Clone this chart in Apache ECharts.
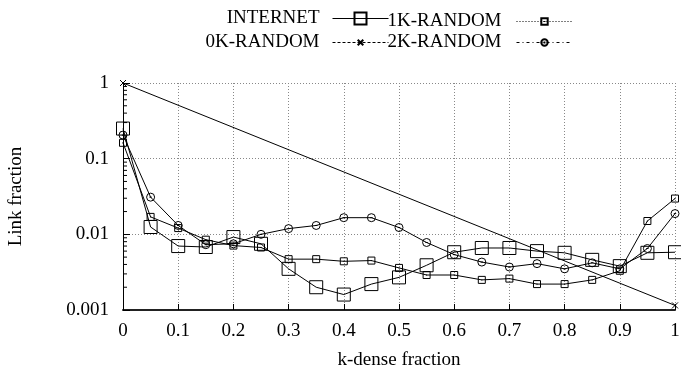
<!DOCTYPE html>
<html>
<head>
<meta charset="utf-8">
<script src="https://cdn.jsdelivr.net/npm/echarts@6/dist/echarts.min.js"></script>
<style>
  html, body { margin: 0; padding: 0; background: #fff; }
  #chart { width: 681px; height: 371px; }
</style>
</head>
<body>
<div id="chart"></div>
<script>
// k-dense fraction sample points
const kDense = [0, 0.05, 0.1, 0.15, 0.2, 0.25, 0.3, 0.35, 0.4, 0.45, 0.5,
                0.55, 0.6, 0.65, 0.7, 0.75, 0.8, 0.85, 0.9, 0.95, 1];

// link fraction per series
const internet = [0.25, 0.0125, 0.0070, 0.0068, 0.0092, 0.0075, 0.0035, 0.0020, 0.0016, 0.0022, 0.0027,
                  0.0039, 0.0058, 0.0066, 0.0066, 0.0060, 0.0057, 0.0046, 0.0038, 0.0057, 0.0058];
const random1k = [0.162, 0.017, 0.0121, 0.0085, 0.0071, 0.0067, 0.0047, 0.0047, 0.0044, 0.0045, 0.0036,
                  0.0029, 0.0029, 0.0025, 0.0026, 0.0022, 0.0022, 0.0025, 0.0033, 0.015, 0.0297];
const random2k = [0.205, 0.031, 0.0131, 0.0073, 0.0075, 0.0100, 0.0119, 0.0131, 0.0166, 0.0166, 0.0123,
                  0.0078, 0.0054, 0.0043, 0.0037, 0.0041, 0.0035, 0.0042, 0.0035, 0.0065, 0.0188];
const random0kX = [0, 1];
const random0k = [1, 0.00115];

// log minor tick positions on the y axis (2..9 in each decade)
const minorTickValues = [];
[0.001, 0.01, 0.1].forEach(function (d) {
  for (let m = 2; m <= 9; m++) minorTickValues.push(+(m * d).toPrecision(3));
});

const FONT = 'Liberation Serif';
const pairs = (xs, ys) => xs.map((x, i) => [x, ys[i]]);

const emptyFill = 'rgba(0,0,0,0)';
const markStyle = { color: emptyFill, borderColor: '#000', borderWidth: 1 };

const symSquareDot = 'path://M0,0H10V10H0ZM5,4.2V5.8';
const symCircleDash = 'path://M0,5A5,5 0 1,0 10,5A5,5 0 1,0 0,5ZM3.5,5H6.5';
const symCross = 'path://M0,0L10,10M10,0L0,10';

function legendBox(name, rightPx, top, itemH, padRight, lineStyle) {
  return {
    data: [{ name: name, lineStyle: lineStyle }],
    right: rightPx, top: top, padding: 0,
    align: 'right', orient: 'horizontal',
    itemWidth: 56, itemHeight: itemH,
    selectedMode: false,
    textStyle: { fontFamily: FONT, fontSize: 19, color: '#000', padding: [0, padRight, 0, 0] }
  };
}

const chart = echarts.init(document.getElementById('chart'), null, { renderer: 'canvas' });

chart.setOption({
  animation: false,
  backgroundColor: '#fff',
  legend: [
    legendBox('INTERNET', 292, 9, 15, 8, { type: 'solid', width: 1, color: '#000' }),
    legendBox('1K-RANDOM', 108, 12, 8, 10, { type: [1, 2], width: 1, color: '#000' }),
    legendBox('0K-RANDOM', 292, 33, 7, 8, { type: [3, 2], width: 1, color: '#000' }),
    legendBox('2K-RANDOM', 108, 33, 8, 10, { type: [3, 3, 1, 3], width: 1, color: '#000' })
  ],
  grid: { left: 123, right: 6, top: 83, bottom: 61, containLabel: false, outerBoundsMode: 'none' },
  xAxis: {
    type: 'value', min: 0, max: 1, interval: 0.1,
    name: 'k-dense fraction', nameLocation: 'middle', nameGap: 41,
    nameTextStyle: { fontFamily: FONT, fontSize: 19, color: '#000' },
    axisLine: { onZero: false, lineStyle: { color: '#222', width: 2 } },
    axisTick: { inside: true, length: 6, lineStyle: { color: '#000' } },
    axisLabel: { fontFamily: FONT, fontSize: 19, color: '#000', margin: 12 },
    splitLine: { show: true, lineStyle: { color: '#888', type: [1, 2], width: 1 } }
  },
  yAxis: {
    type: 'log', logBase: 10, min: 0.001, max: 1,
    name: 'Link fraction', nameLocation: 'middle', nameGap: 97, nameRotate: 90,
    nameTextStyle: { fontFamily: FONT, fontSize: 19, color: '#000' },
    axisLine: { lineStyle: { color: '#000', width: 1 } },
    axisTick: { inside: true, length: 7, lineStyle: { color: '#000' } },
    axisLabel: { fontFamily: FONT, fontSize: 19, color: '#000', margin: 14 },
    splitLine: { show: true, lineStyle: { color: '#888', type: [1, 2], width: 1 } }
  },
  series: [
    {
      name: 'INTERNET', type: 'line', data: pairs(kDense, internet),
      symbol: 'rect', symbolSize: 13,
      lineStyle: { color: '#000', width: 1 },
      itemStyle: markStyle, z: 3
    },
    {
      name: '1K-RANDOM', type: 'line', data: pairs(kDense, random1k),
      symbol: symSquareDot, symbolSize: 7,
      lineStyle: { color: '#000', width: 1 },
      itemStyle: markStyle, z: 3
    },
    {
      name: '0K-RANDOM', type: 'line', data: pairs(random0kX, random0k),
      symbol: symCross, symbolSize: 6,
      lineStyle: { color: '#000', width: 1 },
      itemStyle: markStyle, z: 3
    },
    {
      name: '2K-RANDOM', type: 'line', data: pairs(kDense, random2k),
      symbol: symCircleDash, symbolSize: 8,
      lineStyle: { color: '#000', width: 1 },
      itemStyle: markStyle, z: 3
    },
    {
      // short inward minor ticks along the log axis
      name: 'minorTicks', type: 'custom', silent: true, z: 4,
      data: minorTickValues.map(v => [0, v]),
      renderItem: function (params, api) {
        const p = api.coord([api.value(0), api.value(1)]);
        return {
          type: 'line',
          shape: { x1: p[0], y1: p[1], x2: p[0] + 4, y2: p[1] },
          style: { stroke: '#000', lineWidth: 1 }
        };
      }
    }
  ]
});
</script>
</body>
</html>
